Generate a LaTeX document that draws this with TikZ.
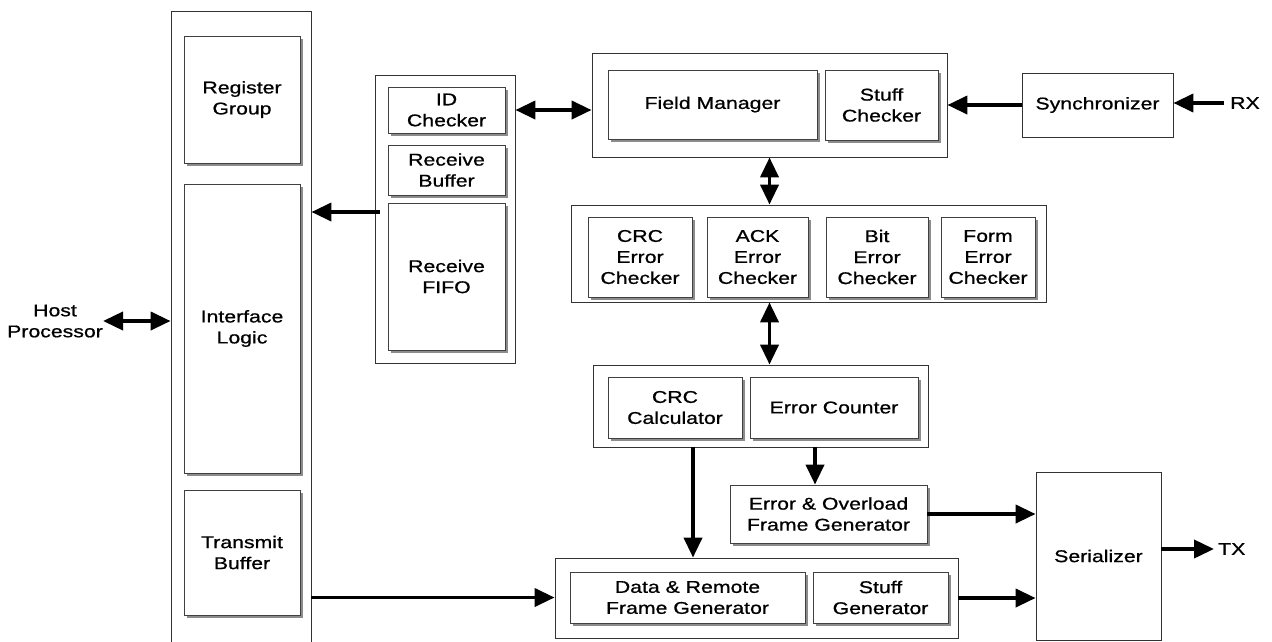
\documentclass[tikz,border=0pt]{standalone}
\usepackage{fontspec}
\setmainfont{Liberation Sans}[FakeStretch=1.25,FakeBold=0.8]
\usetikzlibrary{arrows.meta,shadows}
\begin{document}
\begin{tikzpicture}[x=1pt,y=-1pt,
  font=\fontsize{17}{21}\selectfont,
  grp/.style={draw=black!80, line width=0.8pt, fill=white, inner sep=0pt},
  blk/.style={draw=black!75, line width=0.8pt, fill=white, align=center, inner sep=0pt,
              general shadow={fill=black!45, shadow xshift=2.5pt, shadow yshift=-2.5pt}},
  plain/.style={draw=black!80, line width=0.8pt, fill=white, align=center, inner sep=0pt},
  lbl/.style={align=center, inner sep=0pt},
  tip/.tip={Triangle[length=20pt,width=18pt]},
  arr/.style={line width=3.8pt, -tip},
  biarr/.style={line width=3.8pt, tip-tip}
]
\useasboundingbox (0,0) rectangle (1272,641);
\clip (0,0) rectangle (1272,641);

% host interface column
\node[grp, minimum width=140pt, minimum height=637pt] (iface) at (241,329.5) {};
\node[blk, minimum width=116pt, minimum height=127pt] (reg)  at (242,99.5)  {Register\\Group};
\node[blk, minimum width=116pt, minimum height=289pt] (ilog) at (242,328.5) {Interface\\Logic};
\node[blk, minimum width=116pt, minimum height=125pt] (tbuf) at (242,552.5) {Transmit\\Buffer};
\node[lbl] (host) at (55,321) {Host\\Processor};

% receive path
\node[grp, minimum width=140pt, minimum height=288pt] (rxg) at (445,219) {};
\node[blk, minimum width=117pt, minimum height=46pt]  (idc)   at (446.5,110)   {ID\\Checker};
\node[blk, minimum width=117pt, minimum height=50pt]  (rbuf)  at (446.5,170)   {Receive\\Buffer};
\node[blk, minimum width=117pt, minimum height=147pt] (rfifo) at (446.5,276.5) {Receive\\FIFO};

% field manager group
\node[grp, minimum width=355pt, minimum height=104pt] (fmg) at (769.5,105) {};
\node[blk, minimum width=209pt, minimum height=69pt] (fm) at (712.5,104.5) {Field Manager};
\node[blk, minimum width=113pt, minimum height=70pt] (sc) at (881.5,105)   {Stuff\\Checker};
\node[plain, minimum width=151pt, minimum height=64pt] (sync) at (1097.5,105) {Synchronizer};
\node[lbl, anchor=west] (rx) at (1230,103) {RX};

% error checkers
\node[grp, minimum width=475pt, minimum height=97pt] (errg) at (808.5,253.5) {};
\node[blk, minimum width=104pt, minimum height=80pt] (crce)  at (640,257)   {CRC\\Error\\Checker};
\node[blk, minimum width=101pt, minimum height=80pt] (acke)  at (757.5,257) {ACK\\Error\\Checker};
\node[blk, minimum width=102pt, minimum height=80pt] (bite)  at (877,257)   {Bit\\Error\\Checker};
\node[blk, minimum width=94pt,  minimum height=80pt] (forme) at (988,257)   {Form\\Error\\Checker};

% crc calculator and error counter
\node[grp, minimum width=335pt, minimum height=82pt] (crcg) at (760.5,406) {};
\node[blk, minimum width=134pt, minimum height=61pt] (crcc) at (675,407.5) {CRC\\Calculator};
\node[blk, minimum width=168pt, minimum height=61pt] (ecnt) at (834,407.5) {Error Counter};

% frame generators
\node[blk, minimum width=197pt, minimum height=58pt] (eofg) at (828.5,514) {Error \& Overload\\Frame Generator};
\node[grp, minimum width=403pt, minimum height=80pt] (dg) at (756.5,598) {};
\node[blk, minimum width=235pt, minimum height=51pt] (drfg) at (687.5,597.5) {Data \& Remote\\Frame Generator};
\node[blk, minimum width=135pt, minimum height=51pt] (sgen) at (880.5,597.5) {Stuff\\Generator};

% serializer
\node[plain, minimum width=125pt, minimum height=168pt] (ser) at (1098.5,556) {Serializer};
\node[lbl, anchor=west] (tx) at (1218,549) {TX};

% connectors
\coordinate (rxo) at (380,212);
\coordinate (cx) at (693,0);
\coordinate (ex) at (815,0);
\draw[biarr] (host.east) -- (host.east -| iface.west);
\draw[arr] (rxo) -- (rxo -| iface.east);
\draw[biarr] (rxg.east |- idc) -- (fmg.west |- idc);
\draw[arr] (sync.west) -- (sync.west -| fmg.east);
\draw[arr, shorten <=6pt] (rx.west) -- (rx.west -| sync.east);
\draw[biarr] (fmg.south) -- (fmg.south |- errg.north);
\draw[biarr] (fmg.south |- errg.south) -- (fmg.south |- crcg.north);
\draw[arr] (cx |- crcg.south) -- (cx |- dg.north);
\draw[arr] (ex |- crcg.south) -- (ex |- eofg.north);
\draw[arr] (eofg.east) -- (eofg.east -| ser.west);
\draw[arr] (dg.east) -- (dg.east -| ser.west);
\draw[arr] (iface.east |- drfg) -- (dg.west |- drfg);
\draw[arr, shorten >=4pt] (ser.east |- tx) -- (tx.west);
\end{tikzpicture}
\end{document}
